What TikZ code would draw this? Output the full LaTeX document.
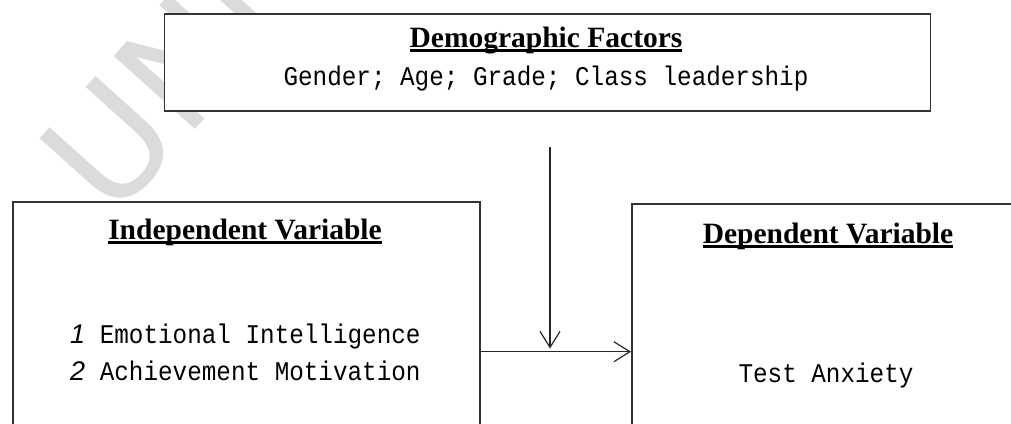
\documentclass[tikz,border=0pt]{standalone}
\usepackage{fontspec}
\setmainfont{Liberation Serif}
\newfontfamily\monof{Liberation Mono}[FakeStretch=0.9]
\newfontfamily\wmfont{DejaVu Sans}
\newfontfamily\digf{Liberation Sans}
\usetikzlibrary{arrows.meta}
\newcommand\ulbold[1]{\setbox0\hbox{#1}\rlap{\rule[-4.8pt]{\wd0}{2.5pt}}\box0}
\begin{document}
\begin{tikzpicture}[x=1pt,y=-1pt,
  box/.style={draw=black!80, line width=1.5pt, fill=white, inner sep=0pt, anchor=north west},
  title/.style={font=\fontsize{29.5}{31}\selectfont\bfseries, anchor=base, inner sep=0pt},
  mono/.style={font=\monof\fontsize{27}{30}\selectfont, inner sep=0pt},
  arr/.style={draw=black!85, line width=1.2pt, -{Straight Barb[length=16pt,width=20pt,line width=1.2pt]}},
  wm/.style={font=\wmfont\fontsize{150}{150}\selectfont, text=black!14, rotate=48, anchor=base west, inner sep=0pt}
]
\useasboundingbox (0,0) rectangle (1011,423);
\node[wm] (wmark) at (112,222) {UNI};
\node[box, minimum width=766pt, minimum height=97pt] (demo) at (163.5,13) {};
\node[box, minimum width=467pt, minimum height=260pt] (iv) at (12,201) {};
\node[box, minimum width=392pt, minimum height=260pt] (dv) at (631,203) {};
\node[title] (demoT) at (546,47) {\ulbold{Demographic Factors}};
\node[mono, anchor=base] (demoL) at (546,85) {Gender; Age; Grade; Class leadership};
\node[title] (ivT) at (245,239) {\ulbold{Independent Variable}};
\node[mono, anchor=base west] (iv1) at (70,343) {{\digf\itshape 1} Emotional Intelligence};
\node[mono, anchor=base west] (iv2) at (70,380) {{\digf\itshape 2} Achievement Motivation};
\node[title] (dvT) at (828,243) {\ulbold{Dependent Variable}};
\node[mono, anchor=base] (dvL) at (826,382) {Test Anxiety};
\coordinate (my) at (0,351.7);
\draw[arr] (iv.east |- my) -- (dv.west |- my);
\coordinate (vs) at (550,147);
\coordinate (ve) at (550,348.5);
\draw[arr] (vs) -- (ve);
\end{tikzpicture}
\end{document}
